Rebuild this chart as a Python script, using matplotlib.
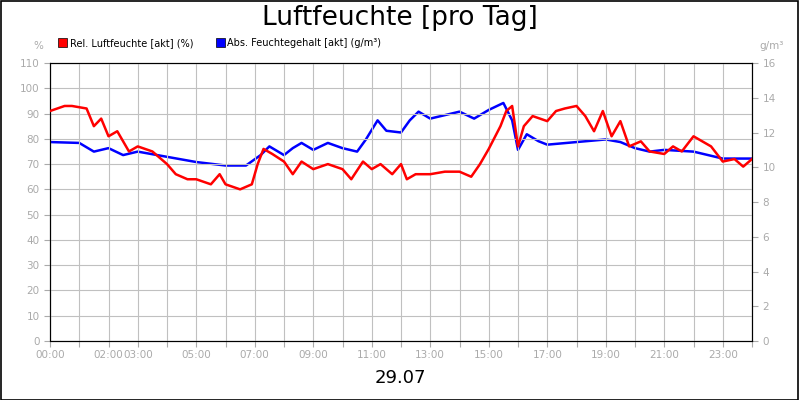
import matplotlib
matplotlib.use("Agg")
import matplotlib.pyplot as plt
from matplotlib.patches import Rectangle

rel_h = [0,0.5,0.75,1.25,1.5,1.75,2.0,2.3,2.7,3.0,3.5,4,4.3,4.7,5,5.5,5.8,6,6.5,6.9,7.1,7.3,7.6,8.0,8.3,8.6,9.0,9.5,10,10.3,10.7,11,11.3,11.7,12,12.2,12.5,13,13.5,14,14.4,14.7,15,15.4,15.6,15.8,16.0,16.2,16.5,17,17.3,17.6,18,18.3,18.6,18.9,19.2,19.5,19.8,20.2,20.5,21,21.3,21.6,22,22.3,22.6,23,23.4,23.7,24]
rel_v = [91,93,93,92,85,88,81,83,75,77,75,70,66,64,64,62,66,62,60,62,70,76,74,71,66,71,68,70,68,64,71,68,70,66,70,64,66,66,67,67,65,70,76,85,91,93,77,85,89,87,91,92,93,89,83,91,81,87,77,79,75,74,77,75,81,79,77,71,72,69,72]
abs_h = [0,1,1.5,2,2.5,3,4,5,6,6.7,7.2,7.5,8,8.3,8.6,9,9.5,10,10.5,10.8,11.2,11.5,12,12.3,12.6,13,13.5,14,14.5,15,15.5,15.8,16,16.3,16.7,17,18,19,19.5,20,20.5,21,22,22.5,23,24]
abs_v = [11.45,11.4,10.9,11.1,10.7,10.9,10.6,10.3,10.1,10.1,10.7,11.2,10.7,11.1,11.4,11.0,11.4,11.1,10.9,11.6,12.7,12.1,12.0,12.7,13.2,12.8,13.0,13.2,12.8,13.3,13.7,12.7,11.0,11.9,11.5,11.3,11.45,11.6,11.45,11.1,10.9,11.0,10.9,10.7,10.5,10.5]
tick_h = [0,2,3,5,7,9,11,13,15,17,19,21,23]
tick_lbl = ["00:00","02:00","03:00","05:00","07:00","09:00","11:00","13:00","15:00","17:00","19:00","21:00","23:00"]

fig = plt.figure(figsize=(8,4), dpi=100)
fig.patches.append(Rectangle((0.001,0.001),0.997,0.996,transform=fig.transFigure,fill=False,ec='black',lw=1.2))
ax = fig.add_axes([0.0625,0.1475,0.8775,0.695])
ax2 = ax.twinx()
gray = '#aaaaaa'
ax.plot(rel_h, rel_v, color='#ff0000', lw=1.8, zorder=3)
ax2.plot(abs_h, abs_v, color='#0000ff', lw=1.8)
ax.set_zorder(ax2.get_zorder()+1); ax.patch.set_visible(False)
ax.set_xlim(0,24); ax.set_ylim(0,110); ax2.set_ylim(0,16)
ax.set_yticks(range(0,111,10)); ax2.set_yticks(range(0,17,2))
ax.set_xticks(range(25), minor=False)
ax.set_xticklabels(['']*25)
for h,l in zip(tick_h,tick_lbl):
    ax.text(h,-3.5,l,ha='center',va='top',fontsize=7.5,color=gray)
ax.grid(True,color='#c0c0c0',lw=0.8)
for a in (ax,ax2):
    a.tick_params(colors=gray,labelsize=7.5,length=4)
    for s in a.spines.values(): s.set_color('black')
ax.text(-0.01,1.05,'%',transform=ax.transAxes,ha='right',fontsize=7.5,color=gray)
ax2.text(1.01,1.05,'g/m³',transform=ax.transAxes,ha='left',fontsize=7.5,color=gray)
fig.text(0.5,0.955,'Luftfeuchte [pro Tag]',ha='center',va='center',fontsize=19)
fig.text(0.5,0.055,'29.07',ha='center',va='center',fontsize=13)
fig.patches.append(Rectangle((0.073,0.882),0.011,0.022,transform=fig.transFigure,fc='#ff0000',ec='black',lw=0.5))
fig.text(0.087,0.893,'Rel. Luftfeuchte [akt] (%)',va='center',fontsize=7)
fig.patches.append(Rectangle((0.27,0.882),0.011,0.022,transform=fig.transFigure,fc='#0000ff',ec='black',lw=0.5))
fig.text(0.284,0.893,'Abs. Feuchtegehalt [akt] (g/m³)',va='center',fontsize=7)
fig.savefig('out.png',dpi=100)
